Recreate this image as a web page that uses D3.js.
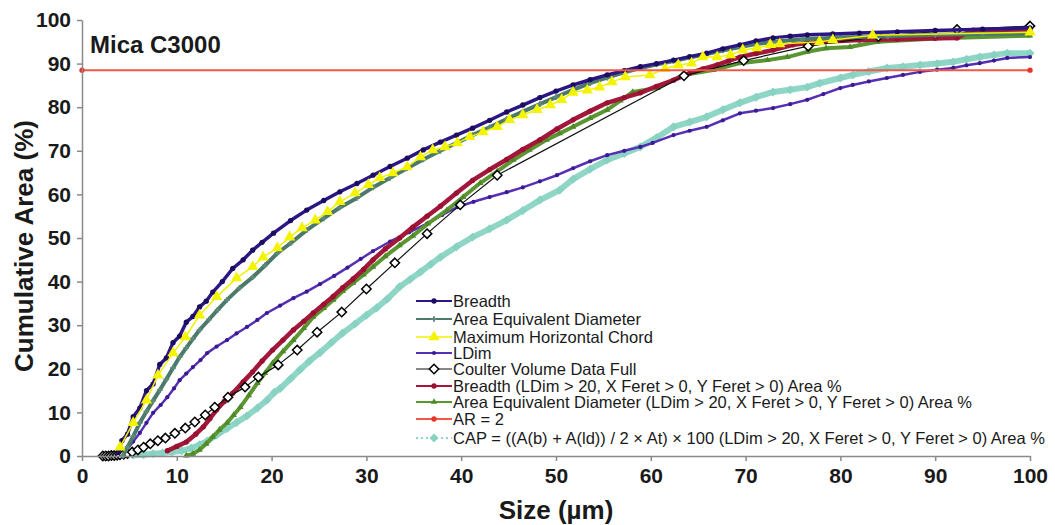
<!DOCTYPE html>
<html>
<head>
<meta charset="utf-8">
<script src="https://cdn.jsdelivr.net/npm/d3@7"></script>
<style>
  html, body { margin: 0; padding: 0; background: #fff; }
  svg { display: block; font-family: "Liberation Sans", Arial, sans-serif; }
</style>
</head>
<body>
<div id="chart"></div>
<script>
// values, [size µm, cumulative area %]
const xTicks = [0, 10, 20, 30, 40, 50, 60, 70, 80, 90, 100];
const yTicks = [0, 10, 20, 30, 40, 50, 60, 70, 80, 90, 100];

const seriesNames = [
  'Breadth',
  'Area Equivalent Diameter',
  'Maximum Horizontal Chord',
  'LDim',
  'Coulter Volume Data Full',
  'Breadth (LDim > 20, X Feret > 0, Y Feret > 0) Area %',
  'Area Equivalent Diameter (LDim > 20, X Feret > 0, Y Feret > 0) Area %',
  'AR = 2',
  'CAP = ((A(b) + A(ld)) / 2 × At) × 100 (LDim > 20, X Feret > 0, Y Feret > 0) Area %'
];

const breadth = [[3.8,0.8],[4.2,3.5],[4.8,5],[5.4,9],[6.1,11],[6.8,15],[7.5,16.5],[8.2,21],[8.9,22.5],[9.6,26],[10.3,27.5],[11,30.7],[11.7,32],[12.4,34.2],[13.1,35.5],[13.8,37.6],[14.8,40],[15.9,43],[17,45],[18,47.2],[19,49],[20.2,51.1],[22,54],[23.7,56.4],[25.5,58.6],[27.2,60.6],[29,62.5],[30.7,64.4],[32.5,66.4],[34.3,68.3],[36,70.2],[37.8,72],[39.5,73.6],[41.2,75.2],[43,77],[44.8,78.9],[46.5,80.5],[48.3,82.2],[50,83.7],[51.8,85.1],[53.6,86.3],[55.4,87.4],[57.2,88.4],[58.9,89.3],[60.6,90],[62.4,90.8],[64.1,91.6],[65.9,92.4],[67.6,93.4],[69.4,94.3],[71.1,95.2],[72.9,95.9],[74.7,96.3],[76.5,96.6],[79.2,96.8],[82,97],[86,97.3],[90,97.6],[95,97.9],[100,98.2]];

const areaEqDiam = [[4.3,0],[4.8,2],[5.4,4.5],[6.1,7.6],[6.8,10.2],[7.5,12.7],[8.2,15.1],[8.9,17.6],[9.6,20.2],[10.3,22.7],[11,24.8],[11.7,26.9],[12.4,28.9],[13.4,31.3],[14.3,33.5],[15.3,35.8],[16.6,38.5],[18,41],[19.3,43.7],[20.6,46.5],[22,48.8],[23.7,51.8],[25.5,54.5],[27.2,57],[29,59.2],[30.7,61.6],[32.5,63.8],[34.3,66],[36,68],[37.8,70],[39.5,71.8],[41.2,73.6],[43,75.4],[44.8,77.3],[46.5,79],[48.3,80.7],[50,82.3],[51.8,84],[53.6,85.5],[55.4,86.8],[57.2,88],[58.9,89],[60.6,89.8],[62.4,90.6],[64.1,91.4],[65.9,92.2],[67.6,93],[69.4,93.8],[71.1,94.5],[73,95],[76,95.6],[80,96],[85,96.3],[90,96.6],[95,96.8],[100,96.9]];

const maxHorizChord = [[4,2],[5.4,7.6],[6.8,12.8],[8,18.5],[9.6,23.6],[10.9,27.3],[12.4,32.3],[14.2,36.5],[16.3,40.8],[18,43.4],[19.1,45.6],[20.6,47.7],[21.9,50.2],[23.2,52.3],[24.6,54.1],[25.9,56],[27.2,58.3],[28.8,60.3],[30.2,62.2],[31.4,63.8],[32.8,64.9],[34.3,66.3],[35.7,68.6],[37,70.2],[38.3,70.9],[39.6,71.8],[40.9,73.2],[42.3,74.3],[43.8,75.5],[45.1,77.1],[46.5,78.2],[48,79.4],[49.4,80.5],[50.6,81.7],[51.8,83.4],[53.3,83.9],[54.6,84.6],[55.9,85.8],[57.3,86.9],[59.9,87.4],[61.5,88.8],[62.9,89.7],[64.3,90.1],[65.5,91.5],[67,91.5],[68.4,92],[69.7,93.1],[71.2,93.6],[72.6,94.3],[73.6,94.5],[77.8,95],[79.2,95.4],[83.4,96.5],[100,97.2]];

const lDim = [[4.7,1.4],[5.4,3.3],[6.1,5.3],[6.8,7.6],[7.5,9.9],[8.3,11.7],[9,13.5],[9.7,15.5],[10.3,17.4],[11,18.9],[11.7,20.4],[12.5,22],[13.2,23.6],[14.2,25.1],[15.3,26.6],[16.3,28.1],[17.4,29.6],[18.5,31.2],[19.5,32.8],[20.9,34.5],[22.3,36.2],[23.7,37.7],[25.1,39.4],[26.6,41.3],[28,43.2],[29.4,45.2],[30.7,47],[32.5,49.2],[34.5,51.3],[36.4,53.3],[38,55.3],[39.6,57.1],[41.3,58.3],[43,59.4],[44.8,60.5],[46.5,61.6],[48.3,63],[50.1,64.4],[51.8,66],[53.6,67.6],[55.4,69],[57.2,70],[58.9,70.9],[60.2,71.8],[62.4,73.6],[64.1,74.6],[65.9,75.5],[67.6,77],[69.4,78.6],[71.1,79.2],[72.9,79.8],[74.7,80.7],[76.5,81.7],[78.2,83],[80,84.4],[81.3,85.1],[83,85.9],[84.9,86.7],[86.6,87.4],[88.4,88.1],[90.2,88.6],[91.9,89],[93.3,89.6],[94.7,90.1],[96.2,90.7],[97.6,91.3],[100,91.5]];

const coulter = [[2.2,0],[2.5,0],[2.8,0],[3.1,0.1],[3.4,0.1],[3.7,0.2],[4,0.3],[4.4,0.4],[4.8,0.6],[5.3,0.9],[5.9,1.4],[6.5,2],[7.2,2.8],[8,3.5],[8.8,4.1],[9.8,5.2],[10.9,6.4],[11.9,7.8],[13,9.4],[14,11.2],[15.4,13.5],[17.2,15.8],[18.6,18.1],[20.7,20.9],[22.7,24.3],[24.8,28.4],[27.4,33],[30,38.3],[33,44.3],[36.4,51],[39.9,57.6],[43.8,64.4],[63.5,87.2],[69.8,90.7],[76.6,94],[84,96.2],[92.3,97.8],[100,98.6]];

const breadthLD20 = [[9,1.2],[10,2.2],[11,3.2],[12,5],[12.8,6.7],[13.5,8.6],[14.2,10.6],[15,12.5],[15.9,14.4],[17,17],[18,19.3],[19,21.8],[20.1,24.3],[21.2,26.6],[22.3,28.9],[23.4,30.9],[24.4,32.8],[25.5,34.8],[26.5,36.6],[27.5,38.6],[28.6,40.6],[29.7,42.8],[30.7,45],[32,47.5],[33.5,50],[34.9,52.5],[36.4,55],[37.8,57.3],[39.5,60.3],[41.2,63.2],[43,65.7],[44.8,68],[46.5,70.3],[48.3,72.5],[50.1,75],[51.8,77.1],[53.6,79.1],[55.4,81],[57.2,82.2],[58.9,83.3],[60.6,84.8],[62.4,86.2],[64.1,87.8],[65.5,88.8],[67,89.7],[68.2,90.6],[69.4,91.5],[71.1,92.3],[72.9,93.1],[75,94.3],[76.5,94.7],[78.2,95],[82,95.4],[86,95.6],[90,95.8],[92.3,95.9],[94,97.7],[100,97.7]];

const areaEqLD20 = [[11,0.1],[11.7,0.5],[12.4,1.4],[13.1,2.8],[13.8,4.4],[14.5,6],[15.3,7.6],[16,9.4],[16.7,11.2],[17.6,13.9],[18.5,16.7],[19.3,19],[20.1,21.3],[21.2,24],[22.3,26.6],[23.4,29.3],[24.4,31.9],[25.5,33.9],[26.5,35.8],[27.5,37.8],[28.6,39.7],[29.7,41.6],[30.7,43.4],[32,45.8],[33.5,48.3],[34.9,50.5],[36.5,53.3],[38.5,56.4],[40.2,59.4],[42,62.6],[43.8,65.3],[45.5,67.9],[47.2,70.2],[49,72.5],[50.4,74],[51.8,75.5],[53.6,77.5],[55.4,79.4],[56.8,81.5],[58.1,83.5],[60.7,84.4],[63.4,87.4],[66.6,88.5],[69.4,90.1],[72.3,90.8],[74.4,91.5],[76.5,92.7],[78.5,93.5],[81,93.8],[83.9,95],[91.6,95.9],[100,96.4]];

const ar2 = [[0,88.5],[100,88.5]];

const cap = [[5.4,0.2],[6.5,0.3],[7.5,0.5],[8.5,0.7],[9.5,0.9],[10.5,1.2],[11.5,1.8],[12.4,2.6],[13.2,3.4],[14.2,4.8],[15.3,6.3],[16.3,7.7],[17.4,9.2],[18.5,11],[19.5,12.8],[20.3,14.6],[20.9,15.5],[22,17.7],[23,19.8],[24,21.8],[25.1,23.7],[26.3,26],[27.5,28.2],[28.8,30.3],[30,32.3],[31.1,34],[32.2,36],[33.5,38.8],[34.6,40.5],[35.7,42.2],[36.8,44],[37.8,45.6],[39.5,48],[41.2,50.2],[43,52.1],[44.8,54.1],[46.5,56.3],[48.3,58.7],[50.4,61],[51.8,63.5],[53.6,65.8],[55.4,67.9],[57.2,69.4],[58.9,70.9],[60.6,73],[62.4,75.5],[64.1,76.6],[65.9,77.8],[67.6,79.4],[69.4,81],[71.1,82.3],[72.9,83.5],[74.7,84],[76.5,84.6],[77.8,85.5],[80,86.7],[81.3,87.4],[83,88.2],[84.9,89],[86.6,89.3],[88.4,89.7],[90.2,90],[91.9,90.4],[93.3,91],[94.7,91.5],[96.2,92],[97.6,92.4],[100,92.4]];

// chart size
const width = 1055;
const height = 525;
const margin = { top: 20, right: 25, bottom: 69, left: 82 };

const x = d3.scaleLinear().domain([0, 100]).range([margin.left, width - margin.right]);
const y = d3.scaleLinear().domain([0, 100]).range([height - margin.bottom, margin.top]);

// an open diamond as wide as it is tall (d3's own diamond is narrow)
const squareDiamond = {
  draw(context, size) {
    const r = Math.sqrt(size / 2);
    context.moveTo(0, -r);
    context.lineTo(r, 0);
    context.lineTo(0, r);
    context.lineTo(-r, 0);
    context.closePath();
  }
};

// styles per series, in legend order
const styles = [
  { color: '#2c1683', width: 3.5, symbol: d3.symbolCircle, size: 22, fill: '#1c0c60' },
  { color: '#4b7a6a', width: 4, symbol: d3.symbolCross, size: 18, fill: '#5d8a78' },
  { color: '#f0f000', width: 1.5, symbol: d3.symbolTriangle, size: 55, fill: '#f4f400' },
  { color: '#5630b4', width: 2.5, symbol: d3.symbolCircle, size: 14, fill: '#3a1a90' },
  { color: '#111', width: 1.2, symbol: squareDiamond, size: 44, fill: '#fff', stroke: '#000' },
  { color: '#a3173a', width: 4.5, symbol: d3.symbolCircle, size: 22, fill: '#9a1030' },
  { color: '#5c9632', width: 4, symbol: d3.symbolTriangle, size: 18, fill: '#4e8a28' },
  { color: '#f25848', width: 2, symbol: d3.symbolCircle, size: 22, fill: '#e8342a' },
  { color: '#8fd6c6', width: 6, symbol: squareDiamond, size: 40, fill: '#88d2c2', dash: '2,3', legendWidth: 2 }
];
const seriesData = [breadth, areaEqDiam, maxHorizChord, lDim, coulter, breadthLD20, areaEqLD20, ar2, cap];

const series = seriesNames.map((name, i) => ({ name, data: seriesData[i], ...styles[i] }));

// draw order: bottom to top
const drawOrder = [8, 3, 6, 5, 4, 1, 0, 2, 7];

const svg = d3.select('#chart')
  .append('svg')
  .attr('width', width)
  .attr('height', height);

const line = d3.line()
  .x(d => x(d[0]))
  .y(d => y(d[1]));

const plot = svg.append('g');

drawOrder.forEach(i => {
  const s = series[i];
  const g = plot.append('g');
  g.append('path')
    .datum(s.data)
    .attr('fill', 'none')
    .attr('stroke', s.color)
    .attr('stroke-width', s.width)
    .attr('stroke-linejoin', 'round')
    .attr('stroke-linecap', 'round')
    .attr('d', line);
  g.selectAll('path.pt')
    .data(s.data)
    .join('path')
    .attr('class', 'pt')
    .attr('transform', d => `translate(${x(d[0])},${y(d[1])})`)
    .attr('d', d3.symbol().type(s.symbol).size(s.size))
    .attr('fill', s.fill)
    .attr('stroke', s.stroke || 'none')
    .attr('stroke-width', s.stroke ? 1.5 : 0);
});

// axes
const yAxis = d3.axisLeft(y).tickValues(yTicks).tickSize(5).tickSizeOuter(0).tickPadding(6);
const xAxis = d3.axisBottom(x).tickValues(xTicks).tickSize(5).tickSizeOuter(0).tickPadding(7);

const gy = svg.append('g')
  .attr('transform', `translate(${margin.left},0)`)
  .call(yAxis);
const gx = svg.append('g')
  .attr('transform', `translate(0,${height - margin.bottom})`)
  .call(xAxis);

[gx, gy].forEach(g => {
  g.select('.domain').attr('stroke', '#8a8a8a').attr('stroke-width', 1.5);
  g.selectAll('.tick line').attr('stroke', '#8a8a8a').attr('stroke-width', 1.5);
  g.selectAll('.tick text')
    .attr('fill', '#1a1a1a')
    .style('font-size', '21px')
    .style('font-weight', 'bold')
    .style('font-family', '"Liberation Sans", Arial, sans-serif');
});

// axis titles
svg.append('text')
  .attr('transform', `translate(33,246) rotate(-90)`)
  .attr('text-anchor', 'middle')
  .attr('fill', '#1a1a1a')
  .style('font-size', '26px')
  .style('font-weight', 'bold')
  .text('Cumulative Area (%)');

svg.append('text')
  .attr('x', x(50))
  .attr('y', 519)
  .attr('text-anchor', 'middle')
  .attr('fill', '#1a1a1a')
  .style('font-size', '26px')
  .style('font-weight', 'bold')
  .text('Size (µm)');

svg.append('text')
  .attr('x', 90)
  .attr('y', 53)
  .attr('fill', '#1a1a1a')
  .style('font-size', '24px')
  .style('font-weight', 'bold')
  .text('Mica C3000');

// legend
const legendX = 416;
const legendY = [301, 319, 337, 353, 369, 386, 402, 419, 438];
const legend = svg.append('g');

series.forEach((s, i) => {
  const g = legend.append('g').attr('transform', `translate(${legendX},${legendY[i]})`);
  g.append('line')
    .attr('x1', 0).attr('x2', 36)
    .attr('stroke', s.color)
    .attr('stroke-width', s.legendWidth || Math.min(s.width, 2))
    .attr('stroke-dasharray', s.dash || null);
  g.append('path')
    .attr('transform', 'translate(18,0)')
    .attr('d', d3.symbol().type(s.symbol).size(s.size))
    .attr('fill', s.fill)
    .attr('stroke', s.stroke || 'none')
    .attr('stroke-width', s.stroke ? 1.5 : 0);
  g.append('text')
    .attr('x', 37)
    .attr('y', 5.5)
    .attr('fill', '#1a1a1a')
    .style('font-size', '16.5px')
    .text(s.name);
});
</script>
</body>
</html>
